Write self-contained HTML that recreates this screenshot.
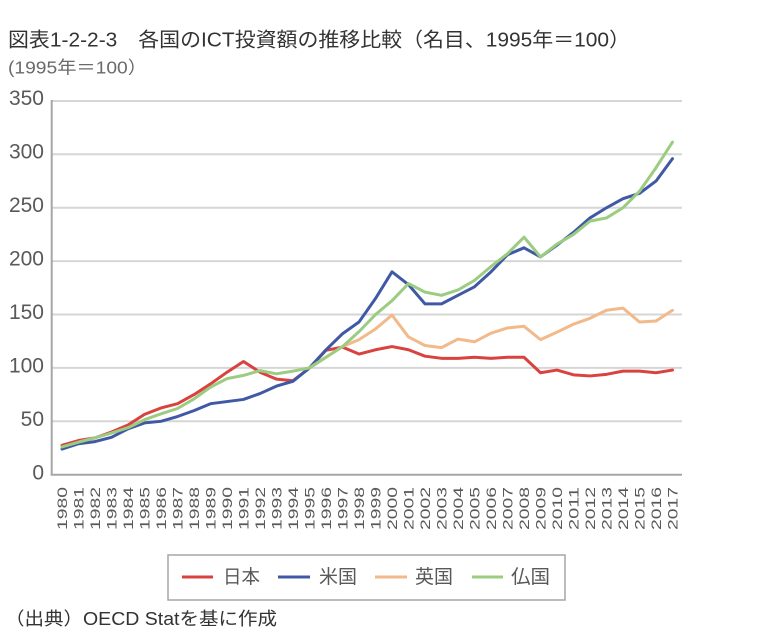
<!DOCTYPE html>
<html>
<head>
<meta charset="utf-8">
<style>
  html,body{margin:0;padding:0;background:#fff;}
  svg{display:block;}
  .t{font-family:"Liberation Sans","Noto Sans CJK JP",sans-serif;}
</style>
</head>
<body>
<svg width="768" height="635" viewBox="0 0 768 635" xmlns="http://www.w3.org/2000/svg">
  <rect width="768" height="635" fill="#fff"/>
  <!-- Title -->
  <text class="t" x="8" y="46.5" font-size="20" fill="#333" textLength="622" lengthAdjust="spacingAndGlyphs">図表1-2-2-3　各国のICT投資額の推移比較（名目、1995年＝100）</text>
  <text class="t" x="8" y="73.5" font-size="17.5" fill="#6a6a6a" textLength="139" lengthAdjust="spacingAndGlyphs">(1995年＝100）</text>

  <!-- gridlines -->
  <g stroke="#d6d6d6" stroke-width="2">
    <line x1="52" y1="101" x2="682" y2="101"/>
    <line x1="52" y1="154.3" x2="682" y2="154.3"/>
    <line x1="52" y1="207.7" x2="682" y2="207.7"/>
    <line x1="52" y1="261.1" x2="682" y2="261.1"/>
    <line x1="52" y1="314.5" x2="682" y2="314.5"/>
    <line x1="52" y1="367.9" x2="682" y2="367.9"/>
    <line x1="52" y1="421.3" x2="682" y2="421.3"/>
  </g>
  <!-- axes -->
  <g stroke="#a6a6a6" stroke-width="2">
    <line x1="51.7" y1="100" x2="51.7" y2="475.5"/>
    <line x1="50.7" y1="474.7" x2="682" y2="474.7"/>
  </g>

  <!-- y labels -->
  <g class="t" font-size="21" fill="#595959" text-anchor="end">
    <text x="44" y="105">350</text>
    <text x="44" y="158.5">300</text>
    <text x="44" y="212">250</text>
    <text x="44" y="265.5">200</text>
    <text x="44" y="319">150</text>
    <text x="44" y="372.5">100</text>
    <text x="44" y="426">50</text>
    <text x="44" y="479.5">0</text>
  </g>

  <!-- x labels -->
  <g class="t" font-size="14" fill="#595959" text-anchor="end">
    <text transform="translate(67,487) rotate(-90)" textLength="43" lengthAdjust="spacingAndGlyphs">1980</text>
    <text transform="translate(83.5,487) rotate(-90)" textLength="43" lengthAdjust="spacingAndGlyphs">1981</text>
    <text transform="translate(100,487) rotate(-90)" textLength="43" lengthAdjust="spacingAndGlyphs">1982</text>
    <text transform="translate(116.5,487) rotate(-90)" textLength="43" lengthAdjust="spacingAndGlyphs">1983</text>
    <text transform="translate(133,487) rotate(-90)" textLength="43" lengthAdjust="spacingAndGlyphs">1984</text>
    <text transform="translate(149.5,487) rotate(-90)" textLength="43" lengthAdjust="spacingAndGlyphs">1985</text>
    <text transform="translate(166,487) rotate(-90)" textLength="43" lengthAdjust="spacingAndGlyphs">1986</text>
    <text transform="translate(182.5,487) rotate(-90)" textLength="43" lengthAdjust="spacingAndGlyphs">1987</text>
    <text transform="translate(199,487) rotate(-90)" textLength="43" lengthAdjust="spacingAndGlyphs">1988</text>
    <text transform="translate(215.5,487) rotate(-90)" textLength="43" lengthAdjust="spacingAndGlyphs">1989</text>
    <text transform="translate(232,487) rotate(-90)" textLength="43" lengthAdjust="spacingAndGlyphs">1990</text>
    <text transform="translate(248.5,487) rotate(-90)" textLength="43" lengthAdjust="spacingAndGlyphs">1991</text>
    <text transform="translate(265,487) rotate(-90)" textLength="43" lengthAdjust="spacingAndGlyphs">1992</text>
    <text transform="translate(281.5,487) rotate(-90)" textLength="43" lengthAdjust="spacingAndGlyphs">1993</text>
    <text transform="translate(298,487) rotate(-90)" textLength="43" lengthAdjust="spacingAndGlyphs">1994</text>
    <text transform="translate(314.5,487) rotate(-90)" textLength="43" lengthAdjust="spacingAndGlyphs">1995</text>
    <text transform="translate(331,487) rotate(-90)" textLength="43" lengthAdjust="spacingAndGlyphs">1996</text>
    <text transform="translate(347.5,487) rotate(-90)" textLength="43" lengthAdjust="spacingAndGlyphs">1997</text>
    <text transform="translate(364,487) rotate(-90)" textLength="43" lengthAdjust="spacingAndGlyphs">1998</text>
    <text transform="translate(380.5,487) rotate(-90)" textLength="43" lengthAdjust="spacingAndGlyphs">1999</text>
    <text transform="translate(397,487) rotate(-90)" textLength="43" lengthAdjust="spacingAndGlyphs">2000</text>
    <text transform="translate(413.5,487) rotate(-90)" textLength="43" lengthAdjust="spacingAndGlyphs">2001</text>
    <text transform="translate(430,487) rotate(-90)" textLength="43" lengthAdjust="spacingAndGlyphs">2002</text>
    <text transform="translate(446.5,487) rotate(-90)" textLength="43" lengthAdjust="spacingAndGlyphs">2003</text>
    <text transform="translate(463,487) rotate(-90)" textLength="43" lengthAdjust="spacingAndGlyphs">2004</text>
    <text transform="translate(479.5,487) rotate(-90)" textLength="43" lengthAdjust="spacingAndGlyphs">2005</text>
    <text transform="translate(496,487) rotate(-90)" textLength="43" lengthAdjust="spacingAndGlyphs">2006</text>
    <text transform="translate(512.5,487) rotate(-90)" textLength="43" lengthAdjust="spacingAndGlyphs">2007</text>
    <text transform="translate(529,487) rotate(-90)" textLength="43" lengthAdjust="spacingAndGlyphs">2008</text>
    <text transform="translate(545.5,487) rotate(-90)" textLength="43" lengthAdjust="spacingAndGlyphs">2009</text>
    <text transform="translate(562,487) rotate(-90)" textLength="43" lengthAdjust="spacingAndGlyphs">2010</text>
    <text transform="translate(578.5,487) rotate(-90)" textLength="43" lengthAdjust="spacingAndGlyphs">2011</text>
    <text transform="translate(595,487) rotate(-90)" textLength="43" lengthAdjust="spacingAndGlyphs">2012</text>
    <text transform="translate(611.5,487) rotate(-90)" textLength="43" lengthAdjust="spacingAndGlyphs">2013</text>
    <text transform="translate(628,487) rotate(-90)" textLength="43" lengthAdjust="spacingAndGlyphs">2014</text>
    <text transform="translate(644.5,487) rotate(-90)" textLength="43" lengthAdjust="spacingAndGlyphs">2015</text>
    <text transform="translate(661,487) rotate(-90)" textLength="43" lengthAdjust="spacingAndGlyphs">2016</text>
    <text transform="translate(677.5,487) rotate(-90)" textLength="43" lengthAdjust="spacingAndGlyphs">2017</text>
  </g>

  <!-- series: data coords (i, value) mapped to pixels -->
  <g transform="matrix(16.5 0 0 -1.0677 62 474.7)" fill="none" stroke-width="3" stroke-linejoin="round" stroke-linecap="round">
    <!-- Japan -->
    <polyline vector-effect="non-scaling-stroke" stroke="#d9423f" points="0,27.5 1,32 2,34.5 3,40 4,46.5 5,56.5 6,62.5 7,66.5 8,75 9,85 10,96 11,106 12,96 13,89.5 14,88 15,100 16,116.5 17,119.5 18,113 19,117 20,120 21,117 22,111 23,109 24,109 25,110 26,109 27,110 28,110 29,95.5 30,98 31,93.5 32,92.5 33,94 34,97 35,97 36,95.5 37,98"/>
    <!-- US -->
    <polyline vector-effect="non-scaling-stroke" stroke="#4059a5" points="0,24 1,29 2,31 3,35 4,43 5,48.5 6,50 7,54.5 8,60 9,66.5 10,68.5 11,70.5 12,76 13,83 14,87.5 15,100 16,117 17,132 18,143 19,165 20,190 21,178 22,160 23,160 24,168 25,176 26,190 27,206 28,212.5 29,204 30,215 31,227 32,240.5 33,250 34,258.5 35,263.5 36,275 37,296"/>
    <!-- UK -->
    <polyline vector-effect="non-scaling-stroke" stroke="#f2b98a" points="15,100 16,110 17,120 18,126.5 19,136.5 20,149.5 21,129 22,121 23,119 24,127 25,124.5 26,132.5 27,137.5 28,139 29,126.5 30,133.5 31,141 32,146.5 33,154 34,156 35,143 36,144 37,154"/>
    <!-- France -->
    <polyline vector-effect="non-scaling-stroke" stroke="#9ccc82" points="0,26 1,30.5 2,34.5 3,39 4,44 5,51.5 6,57 7,62 8,71 9,82 10,90 11,93 12,97.5 13,94.5 14,97 15,100 16,110 17,120 18,134 19,150 20,163 21,179 22,171 23,168 24,173 25,182 26,195 27,207 28,222.5 29,204 30,216 31,225 32,237.5 33,240.5 34,250 35,265.5 36,287.5 37,311.5"/>
  </g>

  <!-- legend -->
  <rect x="168" y="555" width="397" height="45" fill="#fff" stroke="#a6a6a6" stroke-width="1.5"/>
  <g stroke-width="3">
    <line x1="182" y1="577" x2="213" y2="577" stroke="#d9423f"/>
    <line x1="278" y1="577" x2="310" y2="577" stroke="#4059a5"/>
    <line x1="375" y1="577" x2="407" y2="577" stroke="#f2b98a"/>
    <line x1="472" y1="577" x2="503" y2="577" stroke="#9ccc82"/>
  </g>
  <g class="t" font-size="19" fill="#595959">
    <text x="223" y="583" textLength="37" lengthAdjust="spacingAndGlyphs">日本</text>
    <text x="319" y="583" textLength="38" lengthAdjust="spacingAndGlyphs">米国</text>
    <text x="415" y="583" textLength="38" lengthAdjust="spacingAndGlyphs">英国</text>
    <text x="511" y="583" textLength="39" lengthAdjust="spacingAndGlyphs">仏国</text>
  </g>

  <!-- source -->
  <text class="t" x="5" y="625" font-size="18" fill="#333" textLength="272" lengthAdjust="spacingAndGlyphs">（出典）OECD Statを基に作成</text>
</svg>
</body>
</html>
